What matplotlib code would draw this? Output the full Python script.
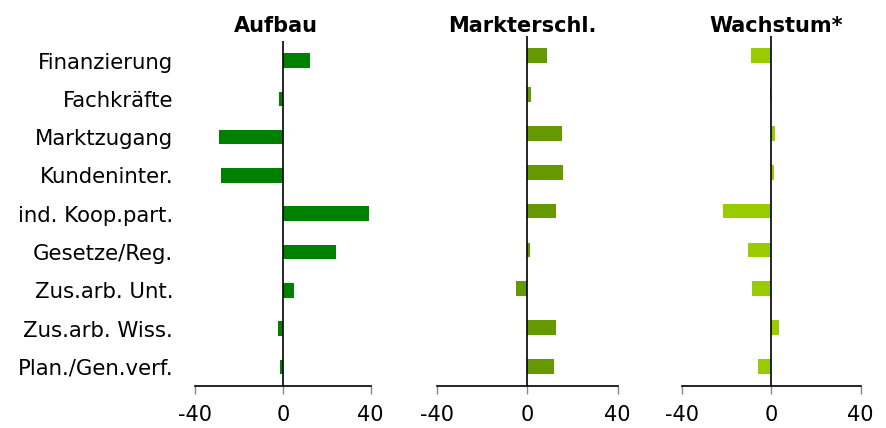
import numpy as np
import matplotlib
matplotlib.use("Agg")
import matplotlib.pyplot as plt

plt.rcParams["font.family"] = "DejaVu Sans"
plt.rcParams["axes.unicode_minus"] = False

# Kategorien (von oben nach unten)
kategorien = [
    "Finanzierung", "Fachkräfte", "Marktzugang", "Kundeninter.",
    "ind. Koop.part.", "Gesetze/Reg.", "Zus.arb. Unt.",
    "Zus.arb. Wiss.", "Plan./Gen.verf.",
]

# Werte je Phase
aufbau = [12.2, -1.7, -29.2, -28.1, 39.4, 24.0, 4.9, -2.3, -1.4]
markterschl = [8.6, 1.5, 15.2, 15.9, 12.5, 1.0, -4.9, 12.5, 11.8]
wachstum = [-9.1, -0.6, 1.8, 1.2, -21.8, -10.5, -8.7, 3.3, -6.0]

titel = ["Aufbau", "Markterschl.", "Wachstum*"]
farben = ["#008000", "#669900", "#99cc00"]
xticks = [-40, 0, 40]

W, H = 887, 428
fig = plt.figure(figsize=(W / 100, H / 100), dpi=100)

# Achsenpositionen [links, unten, breite, hoehe]
positionen = [
    [0.2202, 0.0981, 0.1977, 0.805],
    [0.4927, 0.0981, 0.2037, 0.8178],
    [0.7692, 0.0981, 0.2011, 0.8178],
]
titel_x = [276, 522, 776]

y = np.arange(len(kategorien))

for i, (werte, t, farbe, pos) in enumerate(
        zip([aufbau, markterschl, wachstum], titel, farben, positionen)):
    ax = fig.add_axes(pos)
    ax.barh(y, werte, height=0.38, color=farbe, zorder=2)
    ax.axvline(0, color="black", linewidth=1.2, zorder=3)

    ax.set_xlim(-40, 40)
    ax.set_ylim(len(kategorien) - 0.5, -0.5)
    ax.set_xticks(xticks)
    ax.set_xticklabels([str(v) for v in xticks], fontsize=15)

    for s in ["top", "right", "left"]:
        ax.spines[s].set_visible(False)
    ax.spines["bottom"].set_linewidth(1.2)
    ax.spines["bottom"].set_bounds(-40, 40)
    ax.tick_params(axis="x", direction="out", length=6, width=1,
                   color="#888888", pad=8)

    if i == 0:
        ax.set_yticks(y)
        ax.set_yticklabels(kategorien, fontsize=15.3)
        ax.tick_params(axis="y", length=0, pad=16)
    else:
        ax.set_yticks([])

    fig.text(titel_x[i] / W, 1 - 32 / H, t, ha="center", va="baseline",
             fontsize=15, fontweight="bold")

fig.savefig("out.png", dpi=100)
